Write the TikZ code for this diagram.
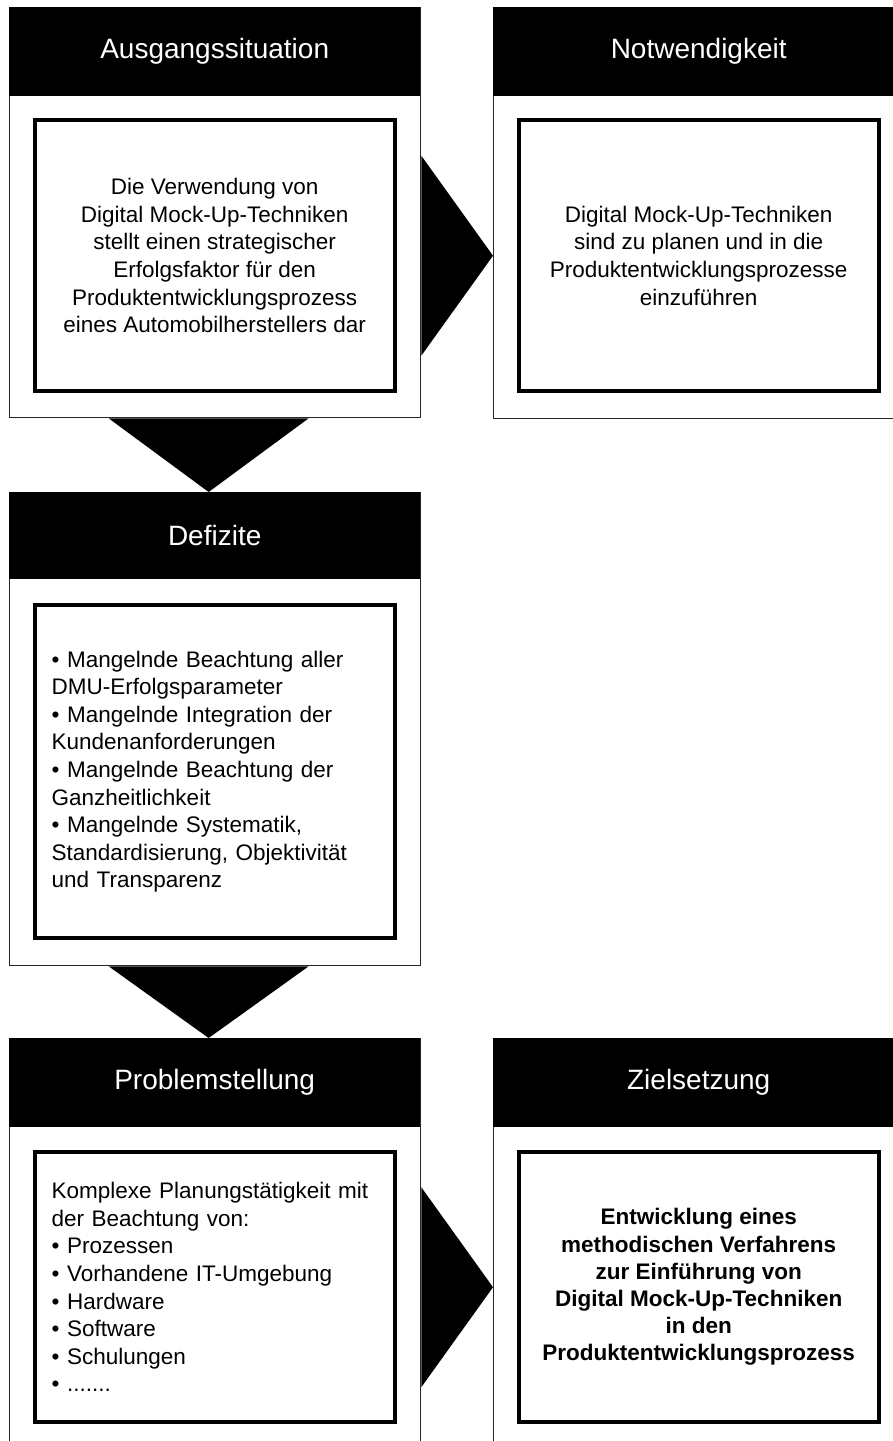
\documentclass[tikz,border=0pt]{standalone}
\usepackage{fontspec}
\setmainfont{Liberation Sans}
\usetikzlibrary{positioning}

\begin{document}
\begin{tikzpicture}[x=1pt,y=-1pt,
  panel/.style={draw=black!85,line width=1.3pt,fill=white,anchor=north west,minimum width=411pt,inner sep=0pt},
  kopf/.style={fill=black,text=white,anchor=north west,minimum width=411pt,minimum height=89pt,inner sep=0pt,font=\fontsize{28}{34}\selectfont},
  inhalt/.style={draw=black,line width=3.6pt,fill=white,minimum width=360pt,inner sep=0pt,font=\fontsize{22.5}{27.6}\selectfont},
  mitte/.style={inhalt,align=center},
  liste/.style={inhalt,align=left,text width=326pt},
  keil/.style={fill=black}]
\useasboundingbox (0,0) rectangle (893,1441);
\clip (0,0) rectangle (893,1441);
% obere Reihe
\node[panel,minimum height=410pt] (ausg) at (9,7) {};
\node[kopf] (ausgkopf) at (ausg.north west) {Ausgangssituation};
\node[mitte,minimum height=271pt,below=22pt of ausgkopf] (ausgtext) {Die Verwendung von\\Digital Mock-Up-Techniken\\stellt einen strategischer\\Erfolgsfaktor für den\\Produktentwicklungsprozess\\eines Automobilherstellers dar};
\node[panel,minimum height=411pt] (notw) at (493,7) {};
\node[kopf] (notwkopf) at (notw.north west) {Notwendigkeit};
\node[mitte,minimum height=271pt,below=22pt of notwkopf] (notwtext) {Digital Mock-Up-Techniken\\sind zu planen und in die\\Produktentwicklungsprozesse\\einzuführen};
% mittlere Reihe
\node[panel,minimum height=473pt] (defz) at (9,492) {};
\node[kopf,minimum height=87pt] (defzkopf) at (defz.north west) {Defizite};
\node[liste,minimum height=333pt,below=24pt of defzkopf] (defztext) {• Mangelnde Beachtung aller\\DMU-Erfolgsparameter\\• Mangelnde Integration der\\Kundenanforderungen\\• Mangelnde Beachtung der\\Ganzheitlichkeit\\• Mangelnde Systematik,\\Standardisierung, Objektivität\\und Transparenz};
% untere Reihe
\node[panel,minimum height=420pt] (prob) at (9,1038) {};
\node[kopf] (probkopf) at (prob.north west) {Problemstellung};
\node[liste,minimum height=270pt,below=23pt of probkopf] (probtext) {Komplexe Planungstätigkeit mit\\der Beachtung von:\\• Prozessen\\• Vorhandene IT-Umgebung\\• Hardware\\• Software\\• Schulungen\\• .......};
\node[panel,minimum height=420pt] (ziel) at (493,1038) {};
\node[kopf] (zielkopf) at (ziel.north west) {Zielsetzung};
\node[mitte,minimum height=270pt,below=23pt of zielkopf,font=\fontsize{22.5}{27.2}\selectfont\bfseries] (zieltext) {Entwicklung eines\\methodischen Verfahrens\\zur Einführung von\\Digital Mock-Up-Techniken\\in den\\Produktentwicklungsprozess};
% Keile
\fill[keil] (ausgtext.center -| ausg.east) ++(0,-100) -- ++(0,200) -- (ausgtext.center -| notw.west) -- cycle;
\fill[keil] (ausg.south) ++(-106.5,0) -- ++(200,0) -- ([xshift=-6.5pt]defz.north) -- cycle;
\fill[keil] (defz.south) ++(-106.5,0) -- ++(200,0) -- ([xshift=-6.5pt]prob.north) -- cycle;
\fill[keil] (probtext.center -| prob.east) ++(0,-100) -- ++(0,200) -- (probtext.center -| ziel.west) -- cycle;
\end{tikzpicture}
\end{document}
